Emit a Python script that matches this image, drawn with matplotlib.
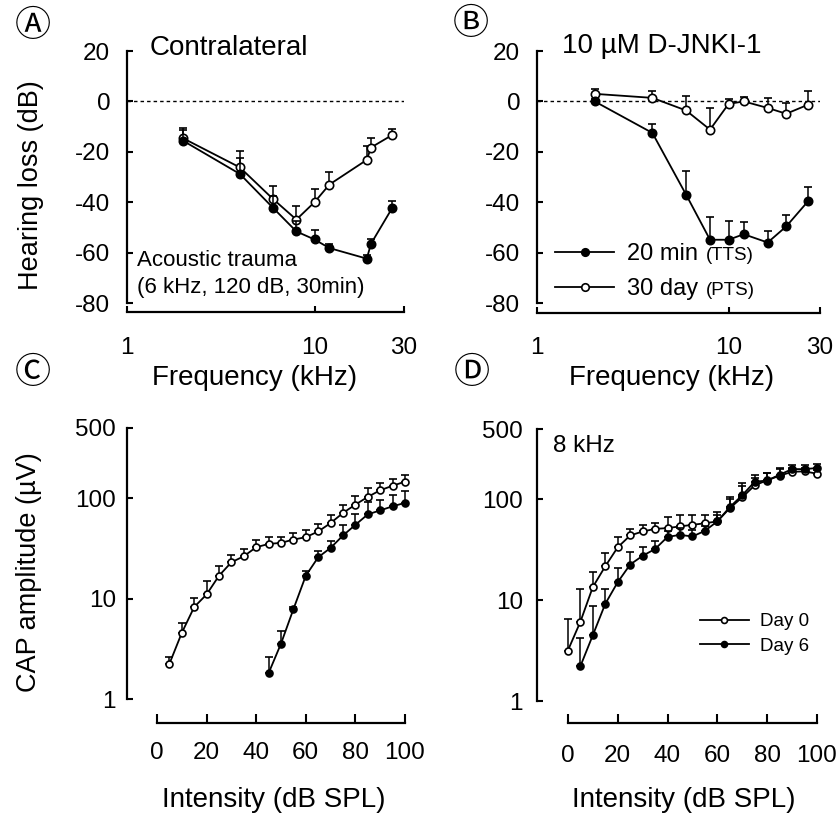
import matplotlib
matplotlib.use('Agg')
import matplotlib.pyplot as plt
import numpy as np
from matplotlib.ticker import NullLocator

plt.rcParams['font.family'] = ['Liberation Sans', 'DejaVu Sans']
plt.rcParams['axes.unicode_minus'] = False

# ---------------- data ----------------
freq_a = [2, 4, 6, 8, 10, 12, 19, 20, 26]
a_20min = [-15.7, -28.8, -42.2, -51.6, -54.8, -58.2, -62.4, -56.5, -42.2]
a_20min_err = [4.5, 6.5, 4.8, 4.0, 3.6, 1.7, 1.5, 2.0, 2.6]
a_30day = [-14.7, -26.2, -38.7, -46.9, -40.0, -33.0, -23.2, -18.3, -13.3]
a_30day_err = [4.3, 6.6, 5.3, 5.3, 5.3, 4.8, 5.5, 3.6, 2.5]

freq_b = [2, 4, 6, 8, 10, 12, 16, 20, 26]
b_20min = [0.0, -12.5, -37.0, -54.9, -54.9, -52.7, -56.0, -49.6, -39.6]
b_20min_err = [0.8, 3.6, 9.4, 9.1, 7.6, 4.8, 4.7, 4.7, 5.6]
b_30day = [3.0, 1.4, -3.6, -11.2, -1.0, 0.0, -2.6, -4.9, -1.3]
b_30day_err = [2.0, 2.6, 5.6, 8.6, 2.0, 1.7, 4.1, 4.4, 5.5]

int_c_open = [5, 10, 15, 20, 25, 30, 35, 40, 45, 50, 55, 60, 65, 70, 75, 80, 85, 90, 95, 100]
c_open = [2.24, 4.56, 8.24, 11.0, 16.9, 23.0, 26.4, 32.5, 35.0, 35.9, 38.7, 40.9,
          46.6, 56.5, 71.3, 86.3, 103, 120, 133, 146]
c_open_err = [0.4, 1.1, 2.0, 3.8, 4.3, 4.4, 4.8, 6.0, 6.2, 5.6, 6.2, 6.8,
              9.0, 10.9, 13.6, 18.2, 22, 23, 24, 24]
int_c_filled = [45, 50, 55, 60, 65, 70, 75, 80, 85, 90, 95, 100]
c_filled = [1.81, 3.56, 7.84, 16.9, 25.8, 32.0, 42.5, 54.3, 69.0, 75.6, 83.0, 89.8]
c_filled_err = [0.81, 1.17, 0.5, 2.1, 4.2, 5.8, 11, 15.7, 23, 19.4, 24, 27]

int_d_day0 = [0, 5, 10, 15, 20, 25, 30, 35, 40, 45, 50, 55, 60, 65, 70, 75, 80, 85, 90, 95, 100]
d_day0 = [3.17, 6.1, 13.5, 21.7, 33.5, 43.9, 48.1, 51.0, 52.0, 54.0, 56.0, 58.0, 60.6,
          82.0, 105, 138, 155, 172, 188, 190, 180]
d_day0_err = [3.3, 6.9, 5.6, 7.9, 8.7, 7.1, 7.9, 7.5, 15, 15.6, 13.5, 11.5, 14.4,
              24, 39, 27, 27, 28, 17, 15, 15]
int_d_day6 = [5, 10, 15, 20, 25, 30, 35, 40, 45, 50, 55, 60, 65, 70, 75, 80, 85, 90, 95, 100]
d_day6 = [2.21, 4.49, 9.2, 15.1, 22.6, 27.6, 32.2, 42.5, 44.5, 42.9, 48.8, 60.6,
          84, 110, 150, 154, 176, 200, 200, 205]
d_day6_err = [2.05, 4.2, 3.6, 6.0, 7.7, 6.4, 6.5, 6.5, 7.5, 7.1, 6.2, 9.4,
              16, 25, 25, 28, 28, 20, 20, 20]

# ---------------- layout helpers ----------------
W, H = 837, 817
fig = plt.figure(figsize=(W / 100, H / 100), dpi=100)


def box(x0, y0, x1, y1):
    return [x0 / W, 1 - y1 / H, (x1 - x0) / W, (y1 - y0) / H]


def fx(x):
    return x / W


def fy(y):
    return 1 - y / H


def style(ax, off_px, xpad, ypad, xlen=4.0):
    for s in ['top', 'right']:
        ax.spines[s].set_visible(False)
    for s in ['left', 'bottom']:
        ax.spines[s].set_linewidth(1.6)
    ax.spines['bottom'].set_position(('outward', off_px * 0.72))
    ax.tick_params(axis='y', direction='in', length=4, width=1.5, labelsize=17.5, pad=ypad)
    ax.tick_params(axis='x', direction='in', length=xlen, width=1.5, labelsize=17.5, pad=xpad)
    ax.xaxis.set_minor_locator(NullLocator())
    ax.yaxis.set_minor_locator(NullLocator())
    ax.patch.set_alpha(0)


def series(ax, x, y, err, filled, ms, z):
    err = np.asarray(err, dtype=float)
    c = ax.errorbar(x, y, yerr=[np.zeros_like(err), err], fmt='-o', color='black',
                    lw=1.3, elinewidth=1.1, capsize=2.6, capthick=1.2, ms=ms,
                    mfc='black' if filled else 'white', mec='black', mew=1.2,
                    zorder=z, clip_on=False)
    for art in c.lines[1] + c.lines[2]:
        art.set_clip_on(False)
    return c


# ---------------- Panel A ----------------
axA = fig.add_axes(box(127, 51, 404, 303))
axA.set_xscale('log')
axA.set_xlim(1, 30)
axA.set_ylim(-80, 20)
axA.axhline(0, color='black', lw=1.0, ls=(0, (2.5, 2.2)), zorder=1)
series(axA, freq_a, a_30day, a_30day_err, False, 6.0, 3)
series(axA, freq_a, a_20min, a_20min_err, True, 6.0, 4)
style(axA, 9, 18, 12)
axA.set_xticks([1, 10, 30])
axA.set_xticklabels(['1', '10', '30'])
axA.set_yticks([20, 0, -20, -40, -60, -80])
axA.text(fx(150), fy(55), 'Contralateral', transform=fig.transFigure, fontsize=20,
         va='baseline', ha='left')
axA.text(fx(137), fy(266), 'Acoustic trauma', transform=fig.transFigure, fontsize=16,
         va='baseline', ha='left')
axA.text(fx(137), fy(293), '(6 kHz, 120 dB, 30min)', transform=fig.transFigure,
         fontsize=16, va='baseline', ha='left')

# ---------------- Panel B ----------------
axB = fig.add_axes(box(537, 51, 820, 303))
axB.set_xscale('log')
axB.set_xlim(1, 30)
axB.set_ylim(-80, 20)
axB.axhline(0, color='black', lw=1.0, ls=(0, (2.5, 2.2)), zorder=1)
cb_open = series(axB, freq_b, b_30day, b_30day_err, False, 6.0, 3)
cb_fill = series(axB, freq_b, b_20min, b_20min_err, True, 6.0, 4)
style(axB, 10, 17, 12)
axB.set_xticks([1, 10, 30])
axB.set_xticklabels(['1', '10', '30'])
axB.set_yticks([20, 0, -20, -40, -60, -80])
axB.text(fx(562), fy(53), '10 µM D-JNKI-1', transform=fig.transFigure, fontsize=20,
         va='baseline', ha='left')
legB = axB.legend([cb_fill.lines[0], cb_open.lines[0]], ['20 min', '30 day'],
                  loc='upper left', bbox_to_anchor=(fx(555), fy(243)),
                  bbox_transform=fig.transFigure, frameon=False, fontsize=17,
                  handlelength=2.5, handletextpad=0.55, labelspacing=0.55,
                  borderpad=0, borderaxespad=0, markerscale=0.9)

# ---------------- Panel C ----------------
axC = fig.add_axes(box(127, 428, 405, 699))
axC.set_yscale('log')
axC.set_xlim(-12.1, 100)
axC.set_ylim(1, 500)
series(axC, int_c_open, c_open, c_open_err, False, 5.0, 3)
series(axC, int_c_filled, c_filled, c_filled_err, True, 5.0, 4)
style(axC, 24, 14, 8, xlen=6.5)
axC.spines['bottom'].set_bounds(0, 100)
axC.set_xticks([0, 20, 40, 60, 80, 100])
axC.set_yticks([1, 10, 100, 500])
axC.set_yticklabels(['1', '10', '100', '500'])

# ---------------- Panel D ----------------
axD = fig.add_axes(box(537, 429, 817, 701))
axD.set_yscale('log')
axD.set_xlim(-12.4, 100)
axD.set_ylim(1, 500)
cd0 = series(axD, int_d_day0, d_day0, d_day0_err, False, 5.0, 3)
cd6 = series(axD, int_d_day6, d_day6, d_day6_err, True, 5.0, 4)
style(axD, 22, 16, 10, xlen=6.5)
axD.spines['bottom'].set_bounds(0, 100)
axD.set_xticks([0, 20, 40, 60, 80, 100])
axD.set_yticks([1, 10, 100, 500])
axD.set_yticklabels(['1', '10', '100', '500'])
axD.text(fx(553), fy(452), '8 kHz', transform=fig.transFigure, fontsize=17.5,
         va='baseline', ha='left')
legD = axD.legend([cd0.lines[0], cd6.lines[0]], ['Day 0', 'Day 6'],
                  loc='upper left', bbox_to_anchor=(fx(700), fy(613)),
                  bbox_transform=fig.transFigure, frameon=False, fontsize=13.5,
                  handlelength=2.6, handletextpad=0.6, labelspacing=0.4,
                  borderpad=0, borderaxespad=0, markerscale=0.85)

# ---------------- axis labels ----------------
fig.text(fx(255), fy(378), 'Frequency (kHz)', fontsize=20, ha='center', va='center')
fig.text(fx(672), fy(378), 'Frequency (kHz)', fontsize=20, ha='center', va='center')
fig.text(fx(274), fy(800), 'Intensity (dB SPL)', fontsize=20, ha='center', va='center')
fig.text(fx(684), fy(800), 'Intensity (dB SPL)', fontsize=20, ha='center', va='center')
fig.text(fx(31), fy(185), 'Hearing loss (dB)', fontsize=19.5, ha='center', va='center',
         rotation=90)
fig.text(fx(29), fy(572), 'CAP amplitude (µV)', fontsize=19.5, ha='center', va='center',
         rotation=90)

# ---------------- panel letters ----------------
for lab, (px, py) in zip(['Ⓐ', 'Ⓑ', 'Ⓒ', 'Ⓓ'],
                         [(33, 26), (471, 24), (33, 373), (472, 373)]):
    fig.text(fx(px), fy(py), lab, fontsize=26,
             family=['Noto Sans CJK JP', 'DejaVu Sans'],
             ha='center', va='center')

# ---------------- small (TTS)/(PTS) tags after the legend labels ----------------
fig.canvas.draw()
renderer = fig.canvas.get_renderer()
inv = fig.transFigure.inverted()
for t, tag in zip(legB.get_texts(), ['(TTS)', '(PTS)']):
    bb = t.get_window_extent(renderer)
    xf, yf = inv.transform((bb.x1 + 8, bb.y0 + 1.2))
    fig.text(xf, yf, tag, fontsize=13.5, ha='left', va='bottom')

fig.savefig('out.png', dpi=100)
